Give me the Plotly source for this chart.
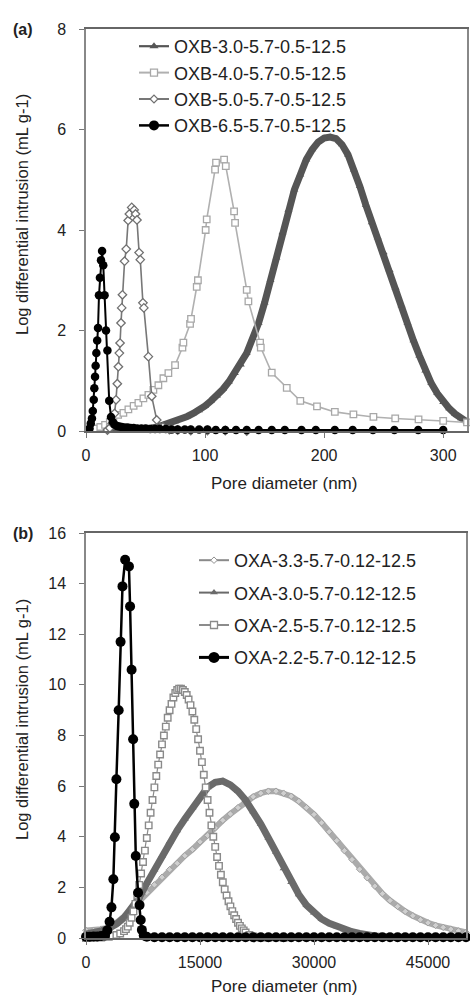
import plotly.graph_objects as go

# ---------------- Panel (a) data (pore diameter in nm) ----------------
oxb30_x = [20, 30, 40, 50, 55, 60, 65, 70, 75, 80, 85, 90, 95, 100, 105, 110, 115, 120, 125, 130,
           135, 140, 145, 150, 155, 160, 165, 170, 175, 180, 185, 190, 195, 200, 205, 210, 215, 220,
           225, 230, 235, 240, 245, 250, 255, 260, 265, 270, 275, 280, 285, 290, 295, 300, 305, 310,
           315, 320]
oxb30_y = [0.0, 0.01, 0.02, 0.04, 0.06, 0.08, 0.12, 0.15, 0.19, 0.24, 0.29, 0.35, 0.41, 0.50, 0.60,
           0.70, 0.83, 0.98, 1.15, 1.32, 1.55, 1.85, 2.15, 2.55, 3.00, 3.45, 3.95, 4.40, 4.80, 5.10,
           5.40, 5.60, 5.75, 5.83, 5.85, 5.82, 5.70, 5.50, 5.20, 4.87, 4.50, 4.15, 3.85, 3.55, 3.20,
           2.85, 2.50, 2.15, 1.80, 1.50, 1.20, 0.95, 0.75, 0.57, 0.45, 0.34, 0.25, 0.18]

oxb40_x = [8, 12, 16, 20, 23, 27, 31.4, 35.6, 40, 44, 48.2, 52.4, 56.6, 60.8, 65, 69.2, 74.8, 81,
           81.8, 87.4, 88.2, 93, 94, 100.5, 101.4, 108.4, 109.2, 116, 117.4, 124.4, 125.2, 135,
           136.4, 146.2, 146.8, 156, 168.6, 180, 194, 209, 224.6, 241.4, 259.7, 279.3, 300, 320]
oxb40_y = [0.05, 0.08, 0.12, 0.18, 0.25, 0.32, 0.36, 0.43, 0.50, 0.56, 0.65, 0.72, 0.82, 0.91, 1.05,
           1.15, 1.31, 1.66, 1.76, 2.13, 2.23, 2.87, 3.00, 4.00, 4.21, 5.20, 5.34, 5.40, 5.27, 4.37,
           4.14, 2.81, 2.58, 1.76, 1.66, 1.16, 0.86, 0.60, 0.49, 0.38, 0.33, 0.28, 0.25, 0.23, 0.20,
           0.17]

oxb50_x = [18, 20, 22, 24, 25.2, 26.3, 27.2, 28, 28.6, 29.4, 30, 30.6, 32.4, 33.8, 35.4, 36.4, 38.4,
           40.5, 41.6, 42.8, 44.6, 45.6, 47.8, 48.6, 52.4, 55.2, 59.4, 64.6, 70, 77, 88, 102, 117, 135]
oxb50_y = [0.02, 0.06, 0.15, 0.35, 0.62, 0.94, 1.28, 1.55, 1.75, 2.15, 2.45, 2.71, 3.38, 3.62, 4.19,
           4.32, 4.45, 4.40, 4.32, 4.20, 3.55, 3.41, 2.55, 2.45, 1.48, 0.69, 0.22, 0.08, 0.03, 0.02,
           0.01, 0.01, 0.01, 0.0]

oxb65_x = [3.0, 4.0, 5.0, 5.7, 6.5, 7.0, 7.6, 8.1, 8.7, 9.4, 10.1, 10.9, 11.7, 12.6, 13.5, 14.5, 15.6,
           16.8, 18.0, 19.5, 21.0, 22.5, 24.0, 26.0, 28.0, 30.0, 32.5, 35.0, 37.5, 40.0, 43.0, 46.5,
           50.0, 54.0, 58.0, 62.0, 67.0, 72.0, 77.0, 83.0, 88.0, 95.0, 102.0, 109.0, 117.0, 126.0,
           135.0, 145.0, 156.0, 167.0, 181.0, 193.0, 209.0, 224.0, 241.0, 259.0, 279.0, 300.0]
oxb65_y = [0.05, 0.15, 0.25, 0.40, 0.62, 0.85, 1.08, 1.30, 1.55, 1.80, 2.05, 2.70, 3.05, 3.40, 3.58,
           3.30, 2.70, 2.00, 1.60, 0.60, 0.28, 0.18, 0.13, 0.10, 0.09, 0.08, 0.07, 0.07, 0.06, 0.06,
           0.05, 0.05, 0.05, 0.04, 0.04, 0.04, 0.04, 0.03, 0.03, 0.03, 0.03, 0.03, 0.03, 0.02, 0.02,
           0.02, 0.02, 0.02, 0.02, 0.02, 0.02, 0.02, 0.02, 0.02, 0.02, 0.02, 0.02, 0.02]

# ---------------- Panel (b) data (pore diameter in nm) ----------------
oxa33_x = [0, 1000, 2000, 3000, 4000, 5000, 6000, 7000, 8000, 9000, 10000, 11000, 12000, 13000,
           14000, 15000, 16000, 17000, 18000, 19000, 20000, 21000, 22000, 23000, 24000, 25000,
           26000, 27000, 28000, 29000, 30000, 31000, 32000, 33000, 34000, 35000, 36000, 37000,
           38000, 39000, 40000, 41000, 42000, 43000, 44000, 45000, 46000, 47000, 48000, 49000, 50000]
oxa33_y = [0.30, 0.30, 0.35, 0.42, 0.60, 0.85, 1.15, 1.45, 1.80, 2.10, 2.40, 2.70, 2.95, 3.25, 3.50,
           3.80, 4.05, 4.35, 4.65, 4.90, 5.15, 5.38, 5.58, 5.72, 5.80, 5.80, 5.72, 5.60, 5.40, 5.15,
           4.88, 4.55, 4.20, 3.85, 3.45, 3.10, 2.72, 2.38, 2.05, 1.75, 1.48, 1.25, 1.05, 0.88, 0.72,
           0.60, 0.50, 0.42, 0.35, 0.28, 0.22]

oxa30_x = [0, 1000, 2000, 3000, 4000, 5000, 6000, 7000, 8000, 9000, 10000, 11000, 12000, 13000,
           14000, 15000, 16000, 17000, 18000, 19000, 20000, 21000, 22000, 23000, 24000, 25000,
           26000, 27000, 28000, 29000, 30000, 31000, 32000, 33000, 34000, 35000, 36000, 37000,
           38000, 40000, 42000, 44000, 46000, 48000, 50000]
oxa30_y = [0.15, 0.20, 0.28, 0.38, 0.55, 0.80, 1.15, 1.60, 2.16, 2.70, 3.25, 3.80, 4.25, 4.70, 5.15,
           5.58, 5.95, 6.15, 6.20, 6.05, 5.80, 5.45, 5.00, 4.50, 3.95, 3.40, 2.75, 2.20, 1.72, 1.30,
           1.00, 0.75, 0.58, 0.45, 0.33, 0.25, 0.18, 0.12, 0.08, 0.04, 0.02, 0.01, 0.01, 0.01, 0.01]

oxa25_x = [0, 1000, 2000, 3000, 3500, 4000, 4500, 5000, 5250, 5500, 5750, 6000, 6250, 6500, 6750,
           7000, 7250, 7500, 7750, 8000, 8250, 8500, 8750, 9000, 9250, 9500, 9750, 10000, 10250,
           10500, 10750, 11000, 11250, 11500, 11750, 12000, 12250, 12500, 12750, 13000, 13250,
           13500, 13750, 14000, 14250, 14500, 14750, 15000, 15250, 15500, 15750, 16000, 16250,
           16500, 16750, 17000, 17250, 17500, 17750, 18000, 18250, 18500, 18750, 19000, 19250,
           19500, 19750, 20000, 20250, 20500, 20750, 21000, 21500, 22000, 22500, 23000, 24000, 26000]
oxa25_y = [0.0, 0.01, 0.02, 0.05, 0.08, 0.12, 0.18, 0.27, 0.35, 0.45, 0.60, 0.80, 1.05, 1.35, 1.70,
           2.10, 2.55, 3.00, 3.45, 3.95, 4.45, 4.95, 5.45, 5.95, 6.40, 6.85, 7.25, 7.65, 8.00, 8.35,
           8.70, 9.00, 9.25, 9.50, 9.68, 9.80, 9.85, 9.85, 9.80, 9.72, 9.60, 9.42, 9.20, 8.95, 8.62,
           8.25, 7.85, 7.40, 6.95, 6.45, 5.95, 5.45, 4.95, 4.45, 4.00, 3.60, 3.20, 2.85, 2.50, 2.20,
           1.92, 1.68, 1.45, 1.25, 1.06, 0.90, 0.75, 0.60, 0.48, 0.38, 0.30, 0.22, 0.12, 0.06, 0.03,
           0.02, 0.01, 0.0]

oxa22_x = [0, 500, 1000, 1500, 2000, 2500, 2800, 3100, 3350, 3600, 3800, 4000, 4300, 4550, 4800,
           5150, 5650, 5800, 6000, 6200, 6350, 6550, 6850, 7050, 7200, 7350, 7600, 8000, 9000, 10000,
           11000, 12000, 13000, 14000, 15000, 16000, 17000, 18000, 19000, 20000, 21000, 22000, 23000,
           24000, 25000, 26000, 27000, 28000, 29000, 30000, 31000, 32000, 33000, 34000, 35000, 36000,
           37000, 38000, 39000, 40000, 41000, 42000, 43000, 44000, 45000, 46000, 47000, 48000, 49000,
           50000]
oxa22_y = [0.05, 0.05, 0.06, 0.06, 0.08, 0.10, 0.30, 0.64, 1.21, 2.32, 3.98, 6.27, 9.00, 11.70,
           13.89, 14.94, 14.68, 13.10, 10.60, 7.85, 5.30, 3.24, 1.79, 1.30, 0.71, 0.32, 0.10, 0.05,
           0.03, 0.03, 0.03, 0.03, 0.03, 0.03, 0.03, 0.03, 0.03, 0.03, 0.03, 0.03, 0.03, 0.03, 0.03,
           0.03, 0.03, 0.03, 0.03, 0.03, 0.03, 0.03, 0.03, 0.03, 0.03, 0.03, 0.03, 0.03, 0.03, 0.03,
           0.03, 0.03, 0.03, 0.03, 0.03, 0.03, 0.03, 0.03, 0.03, 0.03, 0.03, 0.03]

names_a = ["OXB-3.0-5.7-0.5-12.5", "OXB-4.0-5.7-0.5-12.5", "OXB-5.0-5.7-0.5-12.5", "OXB-6.5-5.7-0.5-12.5"]
names_b = ["OXA-3.3-5.7-0.12-12.5", "OXA-3.0-5.7-0.12-12.5", "OXA-2.5-5.7-0.12-12.5", "OXA-2.2-5.7-0.12-12.5"]

xticks_a = [0, 100, 200, 300]
yticks_a = [0, 2, 4, 6, 8]
xticks_b = [0, 15000, 30000, 45000]
yticks_b = [0, 2, 4, 6, 8, 10, 12, 14, 16]

W, H = 470, 996
FONT = "Liberation Sans, Arial, sans-serif"
TXT = "#222222"

fig = go.Figure()

# ---- panel (a) curves ----
fig.add_trace(go.Scatter(x=oxb30_x, y=oxb30_y, mode="lines+markers", xaxis="x", yaxis="y",
                         line=dict(color="#555555", width=7),
                         marker=dict(symbol="triangle-up", size=7, color="#555555"),
                         showlegend=False, cliponaxis=False))
fig.add_trace(go.Scatter(x=oxb40_x, y=oxb40_y, mode="lines+markers", xaxis="x", yaxis="y",
                         line=dict(color="#b0b0b0", width=1.6),
                         marker=dict(symbol="square", size=6.5, color="white",
                                     line=dict(color="#a8a8a8", width=1.3)),
                         showlegend=False, cliponaxis=False))
fig.add_trace(go.Scatter(x=oxb50_x, y=oxb50_y, mode="lines+markers", xaxis="x", yaxis="y",
                         line=dict(color="#777777", width=1.6),
                         marker=dict(symbol="diamond", size=6.5, color="white",
                                     line=dict(color="#707070", width=1.3)),
                         showlegend=False, cliponaxis=False))
fig.add_trace(go.Scatter(x=oxb65_x, y=oxb65_y, mode="lines+markers", xaxis="x", yaxis="y",
                         line=dict(color="#000000", width=2),
                         marker=dict(symbol="circle", size=8.5, color="#000000"),
                         showlegend=False, cliponaxis=False))

# ---- panel (b) curves ----
fig.add_trace(go.Scatter(x=oxa33_x, y=oxa33_y, mode="lines+markers", xaxis="x2", yaxis="y2",
                         line=dict(color="#ababab", width=6),
                         marker=dict(symbol="diamond", size=5, color="#cfcfcf",
                                     line=dict(color="#a0a0a0", width=1)),
                         showlegend=False, cliponaxis=False))
fig.add_trace(go.Scatter(x=oxa30_x, y=oxa30_y, mode="lines+markers", xaxis="x2", yaxis="y2",
                         line=dict(color="#6a6a6a", width=7),
                         marker=dict(symbol="triangle-up", size=7, color="#6a6a6a"),
                         showlegend=False, cliponaxis=False))
fig.add_trace(go.Scatter(x=oxa25_x, y=oxa25_y, mode="lines+markers", xaxis="x2", yaxis="y2",
                         line=dict(color="#8c8c8c", width=1.2),
                         marker=dict(symbol="square", size=6.5, color="white",
                                     line=dict(color="#8a8a8a", width=1.4)),
                         showlegend=False, cliponaxis=False))
fig.add_trace(go.Scatter(x=oxa22_x, y=oxa22_y, mode="lines+markers", xaxis="x2", yaxis="y2",
                         line=dict(color="#000000", width=2.5),
                         marker=dict(symbol="circle", size=10, color="#000000"),
                         showlegend=False, cliponaxis=False))

# ---- legend entries ----
leg_a = [
    dict(line=dict(color="#555555", width=2.2), marker=dict(symbol="triangle-up", size=8, color="#555555")),
    dict(line=dict(color="#b0b0b0", width=2), marker=dict(symbol="square", size=7, color="white", line=dict(color="#a8a8a8", width=1.3))),
    dict(line=dict(color="#777777", width=2), marker=dict(symbol="diamond", size=6, color="white", line=dict(color="#707070", width=1.2))),
    dict(line=dict(color="#000000", width=2.5), marker=dict(symbol="circle", size=10, color="#000000")),
]
for i, st in enumerate(leg_a):
    fig.add_trace(go.Scatter(x=[None], y=[None], mode="lines+markers", name=names_a[i],
                             xaxis="x", yaxis="y", legend="legend", legendgroup="a%d" % i, **st))

leg_b = [
    dict(line=dict(color="#8a8a8a", width=2), marker=dict(symbol="diamond", size=5, color="white", line=dict(color="#909090", width=1))),
    dict(line=dict(color="#6a6a6a", width=2), marker=dict(symbol="triangle-up", size=7, color="#6a6a6a")),
    dict(line=dict(color="#8c8c8c", width=2), marker=dict(symbol="square", size=7, color="white", line=dict(color="#8a8a8a", width=1.3))),
    dict(line=dict(color="#000000", width=3), marker=dict(symbol="circle", size=11, color="#000000")),
]
for i, st in enumerate(leg_b):
    fig.add_trace(go.Scatter(x=[None], y=[None], mode="lines+markers", name=names_b[i],
                             xaxis="x2", yaxis="y2", legend="legend2", legendgroup="b%d" % i, **st))

def px_x(p):
    return p / W

def px_y(p):
    return 1 - p / H

axis_common = dict(showgrid=False, zeroline=False, showline=True, mirror=True, automargin=False,
                   ticks="outside", ticklen=5, tickcolor="#777777",
                   tickfont=dict(family=FONT, size=16, color=TXT))

fig.update_layout(
    template="none",
    width=W, height=H,
    margin=dict(l=0, r=0, t=0, b=0, pad=0, autoexpand=False),
    paper_bgcolor="white", plot_bgcolor="white",
    font=dict(family=FONT, color=TXT),
    xaxis=dict(domain=[px_x(86), px_x(467)], anchor="y", range=[0, 320], tickvals=xticks_a,
               linecolor="#666666", linewidth=1.5, ticklabelstandoff=4, **axis_common),
    yaxis=dict(domain=[px_y(431), px_y(29)], anchor="x", range=[0, 8], tickvals=yticks_a,
               linecolor="#888888", linewidth=1.5, ticklabelstandoff=10, **axis_common),
    xaxis2=dict(domain=[px_x(86), px_x(466)], anchor="y2", range=[0, 50000], tickvals=xticks_b,
                tickformat="d", linecolor="#666666", linewidth=1.5, ticklabelstandoff=4, **axis_common),
    yaxis2=dict(domain=[px_y(938), px_y(533)], anchor="x2", range=[0, 16], tickvals=yticks_b,
                linecolor="#888888", linewidth=1.5, ticklabelstandoff=10, **axis_common),
    legend=dict(x=px_x(134), y=px_y(28), xanchor="left", yanchor="top",
                font=dict(family=FONT, size=18, color=TXT), bgcolor="rgba(0,0,0,0)",
                tracegroupgap=0, traceorder="grouped"),
    legend2=dict(x=px_x(194), y=px_y(542), xanchor="left", yanchor="top",
                 font=dict(family=FONT, size=18, color=TXT), bgcolor="rgba(0,0,0,0)",
                 tracegroupgap=6, traceorder="grouped"),
)

def label(text, x, y, size, angle=0):
    return dict(text=text, x=px_x(x), y=px_y(y), xref="paper", yref="paper",
                xanchor="center", yanchor="middle", textangle=angle, showarrow=False,
                font=dict(family=FONT, size=size, color=TXT))

ann = [
    label("<b>(a)</b>", 23, 29, 16),
    label("<b>(b)</b>", 23, 533, 16),
    label("Pore diameter (nm)", 284, 483, 17),
    label("Pore diameter (nm)", 284, 986, 17),
    label("Log differential intrusion (mL g-1)", 22, 215, 16.5, -90),
    label("Log differential intrusion (mL g-1)", 22, 720, 16.5, -90),
]
fig.update_layout(annotations=ann)

fig.write_html("out.html", config={"displayModeBar": False},
               post_script="document.body.style.margin='0px';")
